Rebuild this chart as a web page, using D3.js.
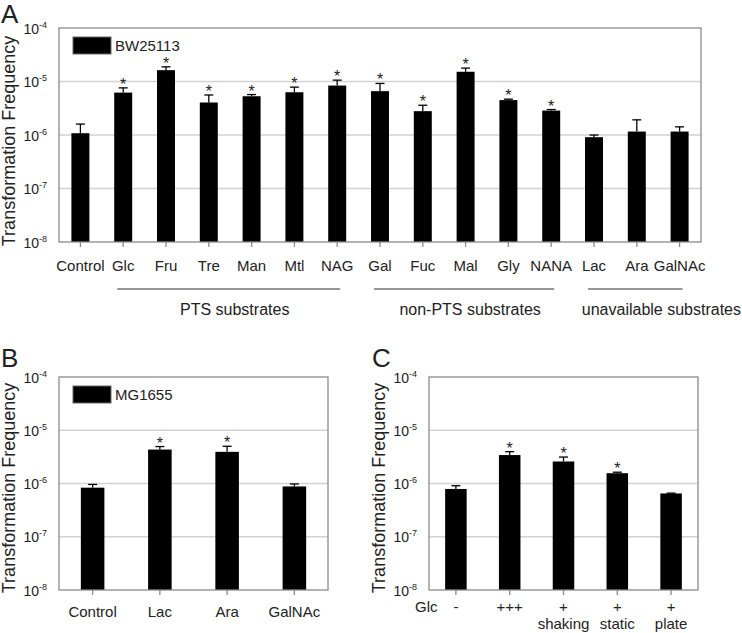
<!DOCTYPE html>
<html><head><meta charset="utf-8">
<script src="https://cdn.jsdelivr.net/npm/d3@7"></script>
<style>
body{margin:0;background:#fff}
text{font-family:"Liberation Sans",Arial,Helvetica,sans-serif;fill:#222}
</style>
</head><body>
<svg id="chart" width="742" height="633"></svg>
<script>
// ---------- data ----------
const yTickExponents = [-8, -7, -6, -5, -4];

const categoriesA = ["Control","Glc","Fru","Tre","Man","Mtl","NAG","Gal","Fuc","Mal","Gly","NANA","Lac","Ara","GalNAc"];
const valuesA   = [1.08e-6, 6.2e-6, 1.63e-5, 4.05e-6, 5.3e-6, 6.3e-6, 8.4e-6, 6.6e-6, 2.79e-6, 1.52e-5, 4.49e-6, 2.86e-6, 9.1e-7, 1.16e-6, 1.16e-6];
const errTopA   = [1.6e-6, 7.6e-6, 1.88e-5, 5.6e-6, 5.7e-6, 7.85e-6, 1.06e-5, 9.2e-6, 3.6e-6, 1.78e-5, 4.68e-6, 2.99e-6, 1.0e-6, 1.92e-6, 1.42e-6];
const signifA   = [false,true,true,true,true,true,true,true,true,true,true,true,false,false,false];
const groupLabelsA = ["PTS substrates","non-PTS substrates","unavailable substrates"];
const groupFromA   = ["Glc","Gal","Lac"];
const groupToA     = ["NAG","NANA","GalNAc"];
const legendA = "BW25113";

const categoriesB = ["Control","Lac","Ara","GalNAc"];
const valuesB   = [8.35e-7, 4.34e-6, 3.93e-6, 8.8e-7];
const errTopB   = [9.6e-7, 4.94e-6, 5.0e-6, 9.8e-7];
const signifB   = [false,true,true,false];
const legendB = "MG1655";

const glcRowC     = ["-","+++","+","+","+"];
const conditionC  = ["","","shaking","static","plate"];
const valuesC   = [7.9e-7, 3.42e-6, 2.59e-6, 1.56e-6, 6.5e-7];
const errTopC   = [9.1e-7, 3.96e-6, 3.14e-6, 1.63e-6, 6.6e-7];
const signifC   = [false,true,true,true,false];

// ---------- drawing ----------
const svg = d3.select("#chart");
const FRAME = "#8a8a8a", GRID = "#d2d2d2";

function panel(o) {
  const g = svg.append("g");
  const y = d3.scaleLog().domain([1e-8, 1e-4]).range([o.bottom, o.top]);
  const n = o.values.length;
  const x = d3.scaleBand().domain(d3.range(n)).range([o.left, o.right])
    .paddingInner(o.pad).paddingOuter(o.pad / 2);
  const bw = x.bandwidth();
  const cx = i => x(i) + bw / 2;
  const rows = o.values.map((v, i) => ({i, v, e: o.errTop[i], s: o.signif[i]}));

  // gridlines
  g.selectAll("line.grid").data(yTickExponents.slice(1, -1)).join("line")
    .attr("x1", o.left).attr("x2", o.right)
    .attr("y1", d => y(Math.pow(10, d))).attr("y2", d => y(Math.pow(10, d)))
    .attr("stroke", GRID).attr("stroke-width", 1.5);

  // y axis labels
  const yAxis = d3.axisLeft(y).tickValues(yTickExponents.map(e => Math.pow(10, e)))
    .tickSize(0).tickPadding(10).tickFormat("");
  const ya = g.append("g").attr("transform", `translate(${o.left},0)`).call(yAxis);
  ya.select(".domain").remove();
  ya.selectAll(".tick text").each(function(d) {
    const t = d3.select(this).attr("dy", null).attr("y", 5).attr("x", -12)
      .attr("text-anchor", "end").attr("font-size", 14).attr("fill", "#222");
    t.append("tspan").text("10");
    t.append("tspan").attr("dy", -6).attr("font-size", 9).text(Math.round(Math.log10(d)));
  });

  // x ticks
  const xAxis = d3.axisBottom(x).tickSize(5).tickFormat("");
  const xa = g.append("g").attr("transform", `translate(0,${o.bottom})`).call(xAxis);
  xa.select(".domain").remove();
  xa.selectAll(".tick line").attr("stroke", FRAME).attr("stroke-width", 1.3);
  xa.selectAll(".tick text").remove();

  // bars
  g.selectAll("rect.bar").data(rows).join("rect")
    .attr("x", d => x(d.i)).attr("width", bw)
    .attr("y", d => y(d.v)).attr("height", d => o.bottom - y(d.v))
    .attr("fill", "#000");

  // error bars
  g.selectAll("line.err").data(rows).join("line")
    .attr("x1", d => cx(d.i)).attr("x2", d => cx(d.i))
    .attr("y1", d => y(d.v)).attr("y2", d => y(d.e))
    .attr("stroke", "#000").attr("stroke-width", 1.3);
  g.selectAll("line.cap").data(rows).join("line")
    .attr("x1", d => cx(d.i) - 4.5).attr("x2", d => cx(d.i) + 4.5)
    .attr("y1", d => y(d.e)).attr("y2", d => y(d.e))
    .attr("stroke", "#000").attr("stroke-width", 1.3);

  // significance stars
  g.selectAll("text.star").data(rows.filter(d => d.s)).join("text")
    .attr("x", d => cx(d.i)).attr("y", d => y(d.e) + 2)
    .attr("text-anchor", "middle").attr("font-size", 16).text("*");

  // frame
  g.append("rect").attr("x", o.left).attr("y", o.top)
    .attr("width", o.right - o.left).attr("height", o.bottom - o.top)
    .attr("fill", "none").attr("stroke", FRAME).attr("stroke-width", 1.3);

  // legend
  if (o.legend) {
    g.append("rect").attr("x", o.left + 14).attr("y", o.top + 9)
      .attr("width", 38).attr("height", 17).attr("fill", "#000").attr("stroke", "#666");
    g.append("text").attr("x", o.left + 56).attr("y", o.top + 23)
      .attr("font-size", 15).text(o.legend);
  }

  // y title
  g.append("text")
    .attr("transform", `translate(${o.titleX},${o.titleY}) rotate(-90)`)
    .attr("text-anchor", "middle").attr("font-size", 18).text("Transformation Frequency");

  // panel letter
  g.append("text").attr("x", o.letterX).attr("y", o.letterY)
    .attr("font-size", 26).text(o.letter);

  return {g, x, y, bw, cx};
}

// Panel A
const A = panel({left: 59, right: 701, top: 28, bottom: 242, pad: 0.58,
  values: valuesA, errTop: errTopA, signif: signifA, legend: legendA,
  titleX: 15, titleY: 141, letter: "A", letterX: 1, letterY: 23});
A.g.selectAll("text.xl").data(categoriesA).join("text")
  .attr("x", (d, i) => A.cx(i)).attr("y", 271)
  .attr("text-anchor", "middle").attr("font-size", 15).text(d => d);
groupLabelsA.forEach((lab, k) => {
  const i0 = categoriesA.indexOf(groupFromA[k]), i1 = categoriesA.indexOf(groupToA[k]);
  const x0 = A.cx(i0) - 6, x1 = A.cx(i1) + 3;
  A.g.append("line").attr("x1", x0).attr("x2", x1).attr("y1", 289).attr("y2", 289)
    .attr("stroke", "#333").attr("stroke-width", 1.2);
  const last = k === groupLabelsA.length - 1;
  A.g.append("text")
    .attr("x", last ? 741 : (x0 + x1) / 2 + 6).attr("y", 315)
    .attr("text-anchor", last ? "end" : "middle")
    .attr("font-size", 16).text(lab);
});

// Panel B
const B = panel({left: 59, right: 328, top: 377, bottom: 590, pad: 0.65,
  values: valuesB, errTop: errTopB, signif: signifB, legend: legendB,
  titleX: 15, titleY: 488, letter: "B", letterX: 1, letterY: 366.5});
B.g.selectAll("text.xl").data(categoriesB).join("text")
  .attr("x", (d, i) => B.cx(i)).attr("y", 617)
  .attr("text-anchor", "middle").attr("font-size", 15).text(d => d);

// Panel C
const C = panel({left: 429, right: 698, top: 377, bottom: 590, pad: 0.6,
  values: valuesC, errTop: errTopC, signif: signifC, legend: null,
  titleX: 385, titleY: 488, letter: "C", letterX: 372, letterY: 366.5});
C.g.append("text").attr("x", 415).attr("y", 612).attr("font-size", 15).text("Glc");
C.g.selectAll("text.r1").data(glcRowC).join("text")
  .attr("x", (d, i) => C.cx(i)).attr("y", 612)
  .attr("text-anchor", "middle").attr("font-size", 15).text(d => d);
C.g.selectAll("text.r2").data(conditionC).join("text")
  .attr("x", (d, i) => C.cx(i)).attr("y", 629)
  .attr("text-anchor", "middle").attr("font-size", 15).text(d => d);
</script>
</body></html>
